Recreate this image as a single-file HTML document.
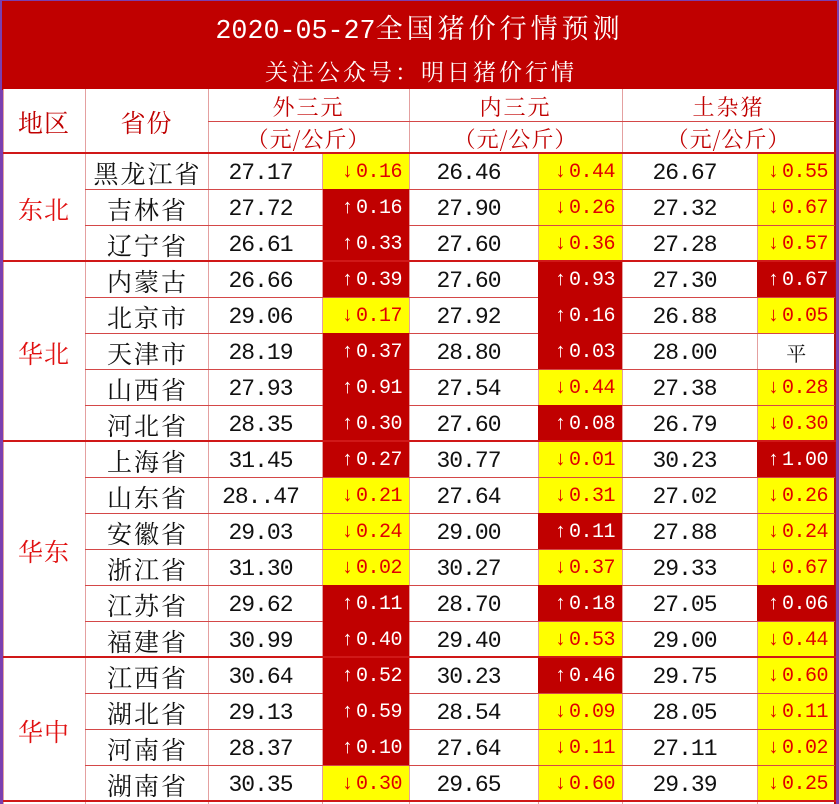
<!DOCTYPE html>
<html><head><meta charset="utf-8">
<style>
*{margin:0;padding:0;box-sizing:border-box}
html,body{width:839px;height:804px;overflow:hidden;background:#7a3fb0}
#w{position:absolute;left:0;top:0;width:839px;height:804px}
.title{position:absolute;left:2px;top:1px;width:835px;height:89px;background:#c00000}
.t1{position:absolute;left:0;top:6px;width:835px;text-align:center;color:#fff;font-size:27px;line-height:40px;white-space:nowrap}
.t1 .n{font-family:"Liberation Mono",monospace;font-size:26.7px}
.t1 .h{font-family:"Noto Serif CJK SC",serif;letter-spacing:4px}
.t2{position:absolute;left:0;top:53px;width:835px;text-align:center;color:#fff;font-family:"Noto Serif CJK SC",serif;font-size:23px;letter-spacing:3px;line-height:34px;padding-left:3px;white-space:nowrap}
.tab{position:absolute;left:3px;top:89px;width:833px;height:715px;background:#fff}
.c{position:absolute;display:flex;align-items:center;justify-content:center;white-space:nowrap}
.hd{color:#c00000;font-family:"Noto Serif CJK SC",serif}
.r{position:absolute;left:0;width:839px;height:36px}
.r .c{top:0;height:36px;padding-top:3px}
.p{left:85px;width:123px;font-family:"Noto Serif CJK SC",serif;font-size:25px;letter-spacing:2px;padding-left:2px;color:#111}
.v{font-family:"Liberation Mono",monospace;font-size:23px;letter-spacing:-1px;color:#111;padding-right:10px}
.d{font-family:"Liberation Mono","DejaVu Sans Mono",monospace;font-size:20px;justify-content:flex-end;padding-right:7px;letter-spacing:-0.5px}
.d i{font-style:normal;margin-right:3px}
.v1{left:208px;width:115px}
.d1{left:323px;width:86px}
.v2{left:409px;width:129px}
.d2{left:538px;width:84px}
.v3{left:622px;width:135px}
.d3{left:757px;width:78px}
.Y{background:#ffff00;color:#e00000}
.R{background:#c00000;color:#fff;z-index:3}
.W{color:#111;justify-content:center;padding-right:0;font-family:"Noto Serif CJK SC",serif;font-size:20px}
.reg{position:absolute;left:3px;width:82px;display:flex;align-items:center;justify-content:center;color:#e01010;font-family:"Noto Serif CJK SC",serif;font-size:25px;letter-spacing:1px;padding-top:3px}
.lv{position:absolute;width:1px;background:#e4a0a0;z-index:2}
.lh{position:absolute;height:1px;background:#d44848;z-index:2}
.lr{position:absolute;height:2px;background:#d01818;z-index:4}
</style></head><body><div id="w">
<div class="title">
<div class="t1"><span class="n">2020-05-27</span><span class="h">全国猪价行情预测</span></div>
<div class="t2">关注公众号：明日猪价行情</div>
</div>
<div class="tab"></div>

<div class="c hd" style="left:3px;top:89px;width:82px;height:64px;font-size:25px;letter-spacing:1px;padding-top:2px">地区</div>
<div class="c hd" style="left:85px;top:89px;width:123px;height:64px;font-size:25px;letter-spacing:1px;padding-top:2px">省份</div>
<div class="c hd" style="left:208px;top:89px;width:201px;height:32px;font-size:22px;letter-spacing:2px;padding-top:2px">外三元</div>
<div class="c hd" style="left:409px;top:89px;width:213px;height:32px;font-size:22px;letter-spacing:2px;padding-top:2px">内三元</div>
<div class="c hd" style="left:622px;top:89px;width:213px;height:32px;font-size:22px;letter-spacing:2px;padding-top:2px">土杂猪</div>
<div class="c hd" style="left:208px;top:121px;width:201px;height:32px;font-size:22px;letter-spacing:1px;padding-top:2px">（元/公斤）</div>
<div class="c hd" style="left:409px;top:121px;width:213px;height:32px;font-size:22px;letter-spacing:1px;padding-top:2px">（元/公斤）</div>
<div class="c hd" style="left:622px;top:121px;width:213px;height:32px;font-size:22px;letter-spacing:1px;padding-top:2px">（元/公斤）</div>

<div class="reg" style="top:153px;height:108px">东北</div>
<div class="reg" style="top:261px;height:180px">华北</div>
<div class="reg" style="top:441px;height:216px">华东</div>
<div class="reg" style="top:657px;height:144px">华中</div>

<div class="r" style="top:153px"><div class="c p">黑龙江省</div><div class="c v v1">27.17</div><div class="c d d1 Y"><i>↓</i>0.16</div><div class="c v v2">26.46</div><div class="c d d2 Y"><i>↓</i>0.44</div><div class="c v v3">26.67</div><div class="c d d3 Y"><i>↓</i>0.55</div></div>
<div class="r" style="top:189px"><div class="c p">吉林省</div><div class="c v v1">27.72</div><div class="c d d1 R"><i>↑</i>0.16</div><div class="c v v2">27.90</div><div class="c d d2 Y"><i>↓</i>0.26</div><div class="c v v3">27.32</div><div class="c d d3 Y"><i>↓</i>0.67</div></div>
<div class="r" style="top:225px"><div class="c p">辽宁省</div><div class="c v v1">26.61</div><div class="c d d1 R"><i>↑</i>0.33</div><div class="c v v2">27.60</div><div class="c d d2 Y"><i>↓</i>0.36</div><div class="c v v3">27.28</div><div class="c d d3 Y"><i>↓</i>0.57</div></div>
<div class="r" style="top:261px"><div class="c p">内蒙古</div><div class="c v v1">26.66</div><div class="c d d1 R"><i>↑</i>0.39</div><div class="c v v2">27.60</div><div class="c d d2 R"><i>↑</i>0.93</div><div class="c v v3">27.30</div><div class="c d d3 R"><i>↑</i>0.67</div></div>
<div class="r" style="top:297px"><div class="c p">北京市</div><div class="c v v1">29.06</div><div class="c d d1 Y"><i>↓</i>0.17</div><div class="c v v2">27.92</div><div class="c d d2 R"><i>↑</i>0.16</div><div class="c v v3">26.88</div><div class="c d d3 Y"><i>↓</i>0.05</div></div>
<div class="r" style="top:333px"><div class="c p">天津市</div><div class="c v v1">28.19</div><div class="c d d1 R"><i>↑</i>0.37</div><div class="c v v2">28.80</div><div class="c d d2 R"><i>↑</i>0.03</div><div class="c v v3">28.00</div><div class="c d d3 W">平</div></div>
<div class="r" style="top:369px"><div class="c p">山西省</div><div class="c v v1">27.93</div><div class="c d d1 R"><i>↑</i>0.91</div><div class="c v v2">27.54</div><div class="c d d2 Y"><i>↓</i>0.44</div><div class="c v v3">27.38</div><div class="c d d3 Y"><i>↓</i>0.28</div></div>
<div class="r" style="top:405px"><div class="c p">河北省</div><div class="c v v1">28.35</div><div class="c d d1 R"><i>↑</i>0.30</div><div class="c v v2">27.60</div><div class="c d d2 R"><i>↑</i>0.08</div><div class="c v v3">26.79</div><div class="c d d3 Y"><i>↓</i>0.30</div></div>
<div class="r" style="top:441px"><div class="c p">上海省</div><div class="c v v1">31.45</div><div class="c d d1 R"><i>↑</i>0.27</div><div class="c v v2">30.77</div><div class="c d d2 Y"><i>↓</i>0.01</div><div class="c v v3">30.23</div><div class="c d d3 R"><i>↑</i>1.00</div></div>
<div class="r" style="top:477px"><div class="c p">山东省</div><div class="c v v1">28..47</div><div class="c d d1 Y"><i>↓</i>0.21</div><div class="c v v2">27.64</div><div class="c d d2 Y"><i>↓</i>0.31</div><div class="c v v3">27.02</div><div class="c d d3 Y"><i>↓</i>0.26</div></div>
<div class="r" style="top:513px"><div class="c p">安徽省</div><div class="c v v1">29.03</div><div class="c d d1 Y"><i>↓</i>0.24</div><div class="c v v2">29.00</div><div class="c d d2 R"><i>↑</i>0.11</div><div class="c v v3">27.88</div><div class="c d d3 Y"><i>↓</i>0.24</div></div>
<div class="r" style="top:549px"><div class="c p">浙江省</div><div class="c v v1">31.30</div><div class="c d d1 Y"><i>↓</i>0.02</div><div class="c v v2">30.27</div><div class="c d d2 Y"><i>↓</i>0.37</div><div class="c v v3">29.33</div><div class="c d d3 Y"><i>↓</i>0.67</div></div>
<div class="r" style="top:585px"><div class="c p">江苏省</div><div class="c v v1">29.62</div><div class="c d d1 R"><i>↑</i>0.11</div><div class="c v v2">28.70</div><div class="c d d2 R"><i>↑</i>0.18</div><div class="c v v3">27.05</div><div class="c d d3 R"><i>↑</i>0.06</div></div>
<div class="r" style="top:621px"><div class="c p">福建省</div><div class="c v v1">30.99</div><div class="c d d1 R"><i>↑</i>0.40</div><div class="c v v2">29.40</div><div class="c d d2 Y"><i>↓</i>0.53</div><div class="c v v3">29.00</div><div class="c d d3 Y"><i>↓</i>0.44</div></div>
<div class="r" style="top:657px"><div class="c p">江西省</div><div class="c v v1">30.64</div><div class="c d d1 R"><i>↑</i>0.52</div><div class="c v v2">30.23</div><div class="c d d2 R"><i>↑</i>0.46</div><div class="c v v3">29.75</div><div class="c d d3 Y"><i>↓</i>0.60</div></div>
<div class="r" style="top:693px"><div class="c p">湖北省</div><div class="c v v1">29.13</div><div class="c d d1 R"><i>↑</i>0.59</div><div class="c v v2">28.54</div><div class="c d d2 Y"><i>↓</i>0.09</div><div class="c v v3">28.05</div><div class="c d d3 Y"><i>↓</i>0.11</div></div>
<div class="r" style="top:729px"><div class="c p">河南省</div><div class="c v v1">28.37</div><div class="c d d1 R"><i>↑</i>0.10</div><div class="c v v2">27.64</div><div class="c d d2 Y"><i>↓</i>0.11</div><div class="c v v3">27.11</div><div class="c d d3 Y"><i>↓</i>0.02</div></div>
<div class="r" style="top:765px"><div class="c p">湖南省</div><div class="c v v1">30.35</div><div class="c d d1 Y"><i>↓</i>0.30</div><div class="c v v2">29.65</div><div class="c d d2 Y"><i>↓</i>0.60</div><div class="c v v3">29.39</div><div class="c d d3 Y"><i>↓</i>0.25</div></div>

<div class="lv" style="left:3px;top:89px;height:715px"></div>
<div class="lv" style="left:85px;top:89px;height:715px"></div>
<div class="lv" style="left:208px;top:89px;height:715px"></div>
<div class="lv" style="left:322px;top:153px;height:651px"></div>
<div class="lv" style="left:409px;top:89px;height:715px"></div>
<div class="lv" style="left:538px;top:153px;height:651px"></div>
<div class="lv" style="left:622px;top:89px;height:715px"></div>
<div class="lv" style="left:757px;top:153px;height:651px"></div>
<div class="lv" style="left:834px;top:89px;height:715px;width:2px;background:#b01010"></div>

<div class="lh" style="left:208px;top:121px;width:627px"></div>
<div class="lh" style="left:85px;top:189px;width:750px"></div>
<div class="lh" style="left:85px;top:225px;width:750px"></div>
<div class="lh" style="left:85px;top:297px;width:750px"></div>
<div class="lh" style="left:85px;top:333px;width:750px"></div>
<div class="lh" style="left:85px;top:369px;width:750px"></div>
<div class="lh" style="left:85px;top:405px;width:750px"></div>
<div class="lh" style="left:85px;top:477px;width:750px"></div>
<div class="lh" style="left:85px;top:513px;width:750px"></div>
<div class="lh" style="left:85px;top:549px;width:750px"></div>
<div class="lh" style="left:85px;top:585px;width:750px"></div>
<div class="lh" style="left:85px;top:621px;width:750px"></div>
<div class="lh" style="left:85px;top:693px;width:750px"></div>
<div class="lh" style="left:85px;top:729px;width:750px"></div>
<div class="lh" style="left:85px;top:765px;width:750px"></div>
<div class="lr" style="left:3px;top:152px;width:833px"></div>
<div class="lr" style="left:3px;top:260px;width:833px"></div>
<div class="lr" style="left:3px;top:440px;width:833px"></div>
<div class="lr" style="left:3px;top:656px;width:833px"></div>
<div class="lr" style="left:3px;top:800px;width:833px"></div>
</div></body></html>
